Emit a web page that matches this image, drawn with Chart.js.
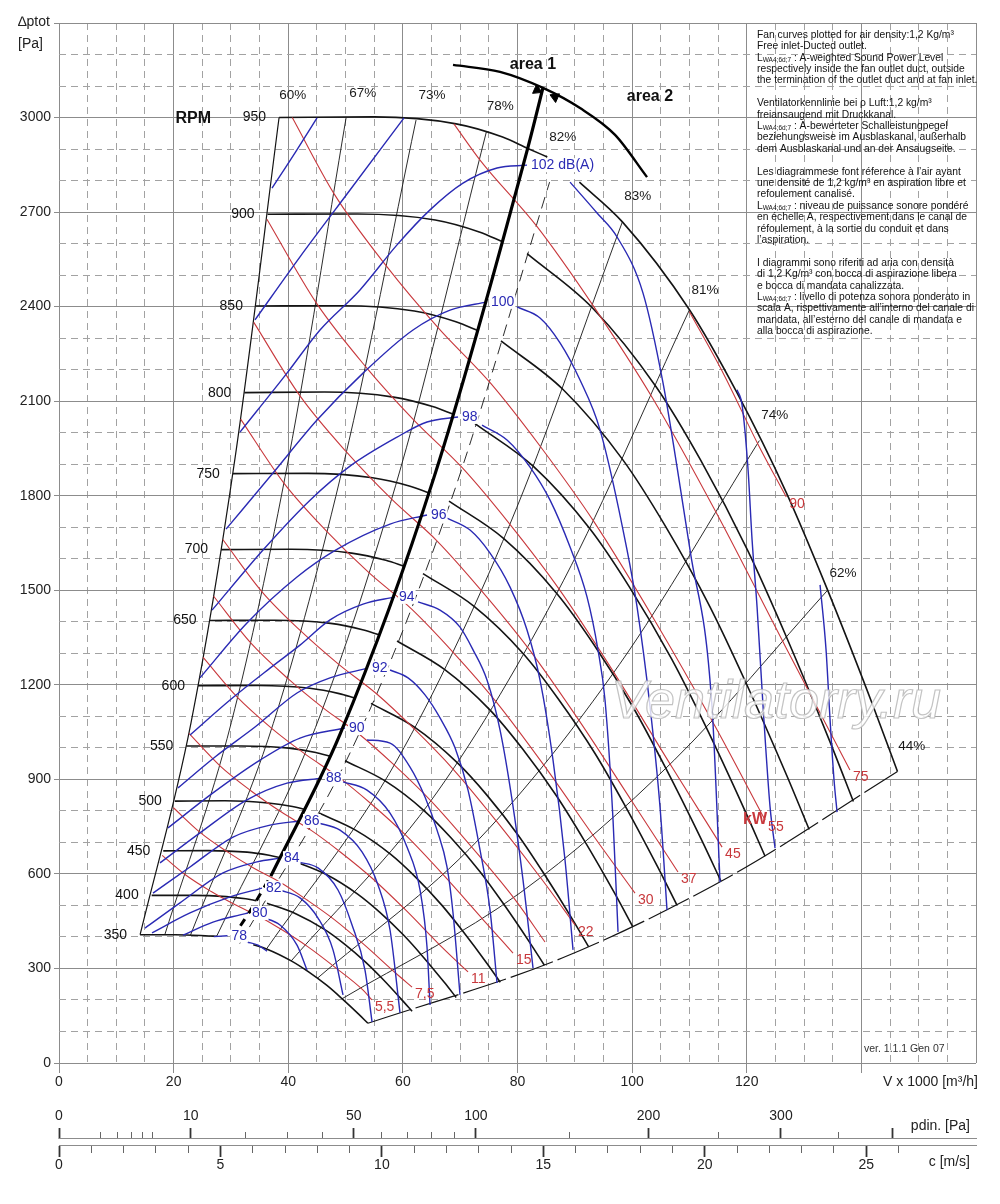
<!DOCTYPE html>
<html>
<head>
<meta charset="utf-8">
<title>Fan curves</title>
<script src="https://cdn.jsdelivr.net/npm/chart.js@4.4.1/dist/chart.umd.min.js"></script>
<style>
  html, body { margin: 0; padding: 0; background: #fff; }
  #wrap { width: 1000px; height: 1204px; }
</style>
</head>
<body>
<div id="wrap"><canvas id="fanChart" width="1000" height="1204"></canvas></div>
<script>
// ---------------- axis ticks ----------------
const xTicks = [0,5,10,15,20,25,30,35,40,45,50,55,60,65,70,75,80,85,90,95,100,105,110,115,120,125,130,135,140,145,150,155,160];
const yTicks = [0,100,200,300,400,500,600,700,800,900,1000,1100,1200,1300,1400,1500,1600,1700,1800,1900,2000,2100,2200,2300,2400,2500,2600,2700,2800,2900,3000,3100,3200,3300];
const pdinMajor = [0, 10, 50, 100, 200, 300, 400];
const pdinMajorLabels = ['0', '10', '50', '100', '200', '300', ''];
const pdinMinor = [1, 2, 3, 4, 5, 20, 30, 40, 60, 70, 80, 90, 150, 250, 350];
const cMajor = [0, 5, 10, 15, 20, 25];
const cMinor = [1,2,3,4,6,7,8,9,11,12,13,14,16,17,18,19,21,22,23,24,26];
const cMax = 28.4;        // c [m/s] at V = 160 x1000 m3/h
const pdinLevel = -241;   // height of the pdin axis line, in units of the Pa scale
const cLevel = -263;      // height of the c axis line

// ---------------- RPM curves [V x1000 m3/h, Pa], null = break ----------------
const rpmLabels = [350, 400, 450, 500, 550, 600, 650, 700, 750, 800, 850, 900, 950];
const rpm350 = [[14.15,407],[20.26,407],[25.53,404],[27.6,402],[30.5,null],[33.9,375],[36.21,362],[40.52,324],[43.55,289],[46.75,246],[49.33,205],[52.28,155],[53.9,126]];
const rpm400 = [[16.17,532],[23.16,532],[29.18,528],[32.59,521],[34.45,515],[35.4,null],[36.3,507],[41.39,473],[46.32,424],[49.77,378],[53.44,321],[56.39,268],[59.75,202],[61.61,164]];
const rpm450 = [[18.19,673],[26.05,674],[32.83,669],[36.66,659],[38.75,651],[39.8,null],[40.83,642],[46.56,599],[52.11,536],[55.99,478],[60.11,406],[63.43,339],[67.22,256],[69.3,208]];
const rpm500 = [[20.21,831],[28.95,832],[36.47,825],[40.74,814],[43.05,804],[44.2,null],[45.37,793],[51.74,739],[57.89,662],[62.21,590],[66.79,501],[70.47,418],[74.68,316],[77.0,256]];
const rpm550 = [[22.23,1006],[31.84,1006],[40.12,999],[44.81,985],[47.35,973],[48.6,null],[49.9,959],[56.91,895],[63.68,801],[68.43,714],[73.46,607],[77.52,506],[82.15,382],[84.69,310]];
const rpm600 = [[24.25,1197],[34.74,1198],[43.77,1189],[48.89,1172],[51.66,1158],[53.0,null],[54.44,1141],[62.09,1065],[69.48,953],[74.66,850],[80.15,722],[84.57,602],[89.62,455],[92.4,369]];
const rpm650 = [[26.27,1404],[37.63,1405],[47.41,1395],[52.96,1375],[55.97,1358],[57.5,null],[58.98,1339],[67.26,1249],[75.26,1119],[80.87,997],[86.82,847],[91.61,707],[97.09,534],[100.1,433]];
const rpm700 = [[28.29,1629],[40.52,1630],[51.06,1618],[57.03,1595],[60.27,1576],[61.9,null],[63.51,1553],[72.43,1449],[81.05,1298],[87.09,1156],[93.5,983],[98.66,820],[104.55,619],[107.79,502]];
const rpm750 = [[30.32,1870],[43.42,1871],[54.71,1857],[61.11,1831],[64.58,1809],[66.3,null],[68.05,1783],[77.61,1664],[86.85,1490],[93.32,1328],[100.19,1128],[105.71,941],[112.03,711],[115.5,577]];
const rpm800 = [[32.34,2127],[46.32,2129],[58.36,2113],[65.18,2083],[68.88,2058],[70.7,null],[72.59,2029],[82.78,1893],[92.63,1695],[99.54,1510],[106.86,1283],[112.76,1071],[119.5,808],[123.2,656]];
const rpm850 = [[34.36,2402],[49.21,2403],[62.0,2386],[69.25,2352],[73.19,2323],[75.2,null],[77.12,2291],[87.95,2137],[98.42,1913],[105.75,1705],[113.54,1449],[119.8,1209],[126.96,913],[130.89,741]];
const rpm900 = [[36.38,2693],[52.11,2694],[65.65,2675],[73.33,2637],[77.5,2605],[79.6,null],[81.67,2568],[93.13,2395],[104.21,2145],[111.98,1912],[120.22,1624],[126.85,1355],[134.44,1023],[138.6,830]];
const rpm950 = [[38.4,3000],[55,3002],[69.3,2980],[77.4,2938],[81.8,2902],[85.2,2875],[88,null],[90.8,2795],[98.3,2669],[110,2390],[118.2,2130],[126.9,1810],[133.9,1510],[141.9,1140],[146.3,925]];

// ---------------- efficiency lines ----------------
const effLabels = ['60%', '67%', '73%', '78%', '82%', '83%', '81%', '74%', '62%', '44%'];
const effLabelV = [40.8, 53.0, 65.1, 77.0, 87.9, 101.0, 112.7, 124.9, 136.8, 148.8];
const effLabelP = [3072, 3078, 3072, 3037, 2938, 2751, 2453, 2056, 1555, 1006];
const eff60 = [[14.15,407],[23.04,1080],[30.72,1920],[38.4,3000]];
const eff67 = [[18.46,407],[30.06,1080],[40.08,1920],[50.1,3000]];
const eff73 = [[22.95,406],[37.38,1077],[49.84,1915],[62.3,2992]];
const eff78 = [[27.48,401],[44.76,1065],[59.68,1892],[74.6,2957]];
const eff82 = [[31.54,379],[51.36,1006],[68.48,1789],[85.6,2795]];
const eff83 = [[36.21,362],[58.98,961],[78.64,1708],[98.3,2669]];
const eff81 = [[40.52,324],[66,860],[88,1530],[110,2390]];
const eff74 = [[45.02,268],[73.32,711],[97.76,1264],[122.2,1975]];
const eff62 = [[49.4,204],[80.46,540],[107.28,960],[134.1,1500]];
const eff44 = [[53.9,126],[87.78,333],[117.04,592],[146.3,925]];

// area boundary, arc and its arrows
const areaLine = [[36.96,593],[49.08,1045],[65.44,1859],[81.8,2904],[84.45,3095]];
const areaLineLow = [[30.2,396],[33.5,487],[36.96,593]];
const areaArc = [[68.75,3167],[76.95,3145],[84.45,3094],[90.91,3030],[97.02,2945],[102.6,2811]];
const areaArrows = [[83.41,3087],[86.55,3065]];
const areaArrowAngles = [114, -66];

// ---------------- shaft power lines [kW] ----------------
const kwLabels = ['5,5', '7,5', '11', '15', '', '22', '30', '37', '45', '55', '75', '90'];
const kw5_5 = [[18.0,659],[22.29,594],[26.56,544],[30.75,502],[34.93,465],[39.04,421],[43.33,370],[48.06,305],[53.06,231],[54.6,200]];
const kw7_5 = [[19.96,810],[24.72,730],[29.45,669],[34.09,617],[38.73,572],[43.29,517],[48.04,455],[53.29,375],[58.83,284],[61.6,241]];
const kw11 = [[22.68,1046],[28.09,943],[33.47,864],[38.74,797],[44.01,738],[49.19,668],[54.6,587],[60.56,484],[66.85,367],[71.37,289]];
const kw15 = [[25.15,1287],[31.15,1160],[37.11,1062],[42.96,980],[48.8,907],[54.55,821],[60.54,722],[67.15,595],[74.13,452],[79.22,349]];
const kw18_5 = [[26.98,1481],[33.41,1334],[39.81,1222],[46.08,1127],[52.34,1044],[58.51,945],[64.93,831],[72.02,685],[79.51,520],[84.8,384]];
const kw22 = [[28.58,1661],[35.39,1496],[42.17,1371],[48.81,1265],[55.45,1171],[61.98,1060],[68.79,932],[76.3,768],[84.23,583],[90.04,438]];
const kw30 = [[31.69,2043],[39.24,1840],[46.76,1686],[54.12,1555],[61.49,1441],[68.73,1304],[76.28,1146],[84.6,945],[93.4,717],[100.5,539]];
const kw37 = [[33.99,2350],[42.08,2116],[50.15,1939],[58.04,1789],[65.94,1657],[73.7,1499],[81.8,1318],[90.73,1087],[100.16,825],[108.0,606]];
const kw45 = [[36.28,2677],[44.92,2411],[53.53,2209],[61.96,2039],[70.39,1888],[78.68,1709],[87.32,1502],[96.86,1238],[106.92,940],[115.7,685]];
const kw55 = [[40.7,3000],[48.03,2757],[57.24,2526],[66.25,2331],[75.26,2158],[84.12,1953],[93.36,1717],[103.56,1416],[114.31,1074],[123.2,771]];
const kw75 = [[68.9,2980],[73.46,2865],[83.45,2653],[93.28,2401],[103.53,2111],[114.83,1741],[126.76,1321],[138.0,930]];
const kw90 = [[110,2384],[116,2185],[122,1962],[126.9,1796]];
const kwUnitPos = [121.45, 771];

// ---------------- sound power lines [dB(A)], rising part L and falling part R ----------------
const dbLabels = ['78', '80', '82', '84', '86', '88', '90', '92', '94', '96', '98', '100', '102 dB(A)', '', ''];
const db78L = [[27.0,401],[29.4,404]];
const db78R = [[32.8,384],[34.72,374],[36.29,355]];
const db80L = [[21.64,406],[26.87,447],[31.58,470],[32.98,476]];
const db80R = [[35.42,463],[38.56,438],[41.53,374],[43.27,295]];
const db82L = [[16.23,413],[22.86,476],[29.84,527],[35.42,555]];
const db82R = [[38.56,549],[42.05,524],[45.19,460],[47.81,359],[49.56,216]];
const db84L = [[15.01,428],[21.11,508],[28.62,603],[34.55,638],[38.56,650]];
const db84R = [[41.7,638],[45.19,619],[48.68,549],[51.13,438],[53.39,295],[54.62,130]];
const db86L = [[16.4,539],[22.86,622],[30.36,717],[36.82,755],[42.05,768]];
const db86R = [[45.19,762],[49.03,739],[52.87,670],[55.66,565],[57.76,422],[59.5,159]];
const db88L = [[17.62,635],[24.6,730],[32.8,835],[39.78,888],[45.89,904]];
const db88R = [[49.56,892],[53.74,866],[57.76,793],[60.72,685],[62.99,549],[64.21,368],[64.74,184]];
const db90L = [[19.02,746],[26.87,857],[35.07,961],[42.05,1031],[49.9,1063]];
const db90R = [[53.74,1025],[57.76,1015],[61.25,939],[63.86,844],[65.96,739],[67.7,622],[68.75,476],[69.97,216]];
const db92L = [[20.77,873],[27.22,971],[34.2,1066],[41.53,1174],[47.29,1222],[53.92,1253]];
const db92R = [[57.76,1247],[60.9,1222],[63.86,1168],[66.48,1095],[69.1,1000],[71.37,866],[73.46,676],[75.21,485],[76.43,254]];
const db94L = [[22.86,1041],[29.84,1152],[36.82,1253],[42.05,1326],[47.29,1406],[53.05,1456],[58.63,1479]];
const db94R = [[62.64,1463],[66.48,1437],[69.97,1383],[72.24,1311],[74.68,1215],[76.95,1057],[79.05,835],[80.96,581],[82.71,301]];
const db96L = [[24.6,1222],[32.8,1396],[41.53,1542],[48.33,1628],[57.76,1710],[64.21,1739]];
const db96R = [[67.7,1729],[71.72,1691],[75.21,1618],[78.7,1510],[81.66,1374],[83.93,1215],[86.2,961],[88.29,644],[89.69,359]];
const db98L = [[26.7,1437],[35.6,1628],[43.8,1786],[50.78,1894],[58.98,1986],[64.22,2034],[69.62,2050]];
const db98R = [[73.81,2024],[78.17,1977],[82.19,1891],[85.68,1786],[89.17,1637],[92.13,1479],[94.05,1310],[95.27,1152],[96.67,771],[97.54,416]];
const db100L = [[29.14,1694],[37.34,1872],[45.02,2040],[53.05,2189],[61.77,2326],[68.23,2389],[74.68,2415]];
const db100R = [[79.92,2399],[83.93,2364],[87.42,2285],[90.91,2167],[94.4,2009],[99.11,1628],[100.86,1447],[103.13,1130],[104.87,812],[106.09,485]];
const db102L = [[31.58,2002],[39.78,2189],[45.54,2326],[52.52,2453],[58.98,2596],[64.74,2707],[70.49,2792],[76.43,2840],[81.66,2849]];
const db102R = [[89.17,2795],[93.88,2697],[97.37,2621],[101.9,2443],[105.39,2158],[107.84,1891],[110.1,1628],[113.94,1130],[115.34,574]];
const db104L = [[34.2,2358],[42.05,2558],[50.78,2770],[60.2,2999]];
const db104R = [[118.31,2136],[119.18,2088],[120.23,1882],[120.93,1660],[121.8,1447],[122.85,1130],[124.07,812],[124.94,682]];
const db106L = [[37.17,2776],[41.18,2888],[45.02,2999]];
const db106R = [[132.79,1517],[133.84,1310],[134.54,1088],[135.23,898],[135.76,796]];

// ---------------- side note ----------------
const infoLines = [
  'Fan curves plotted for air density:1,2 Kg/m³',
  'Free inlet-Ducted outlet.',
  ['L', 'WA4;6d;7', ' : A-weighted Sound Power Level'],
  'respectively inside the fan outlet duct, outside',
  'the termination of the outlet duct and at fan inlet.',
  '',
  'Ventilatorkennlinie bei ρ Luft:1,2 kg/m³',
  'freiansaugend mit Druckkanal.',
  ['L', 'WA4;6d;7', ' : A-bewerteter Schalleistungpegel'],
  'beziehungsweise im Ausblaskanal, außerhalb',
  'dem Ausblaskanal und an der Ansaugseite.',
  '',
  'Les diagrammese font réference à l\u2019air ayant',
  'une densité de 1,2 kg/m³ en aspiration libre et',
  'refoulement canalisé.',
  ['L', 'WA4;6d;7', ' : niveau de puissance sonore pondéré'],
  'en échelle A, respectivement dans le canal de',
  'réfoulement, à la sortie du conduit et dans',
  'l\u2019aspiration.',
  '',
  'I diagrammi sono riferiti ad aria con densità',
  'di 1,2 Kg/m³ con bocca di aspirazione libera',
  'e bocca di mandata canalizzata.',
  ['L', 'WA4;6d;7', ' : livello di potenza sonora ponderato in'],
  'scala A, rispettivamente all\u2019interno del canale di',
  'mandata, all\u2019esterno del canale di mandata e',
  'alla bocca di aspirazione.'
];

// ---------------- build datasets ----------------
const FONT = '"Liberation Sans", Arial, Helvetica, sans-serif';
const BLACK = '#141414', RED = '#c8383c', BLUE = '#2a2ab4';

const rpmCurves = [rpm350, rpm400, rpm450, rpm500, rpm550, rpm600, rpm650, rpm700, rpm750, rpm800, rpm850, rpm900, rpm950];
const effCurves = [eff60, eff67, eff73, eff78, eff82, eff83, eff81, eff74, eff62, eff44];
const kwCurves = [kw5_5, kw7_5, kw11, kw15, kw18_5, kw22, kw30, kw37, kw45, kw55, kw75, kw90];
const dbLeft = [db78L, db80L, db82L, db84L, db86L, db88L, db90L, db92L, db94L, db96L, db98L, db100L, db102L, db104L, db106L];
const dbRight = [db78R, db80R, db82R, db84R, db86R, db88R, db90R, db92R, db94R, db96R, db98R, db100R, db102R, db104R, db106R];

const toPts = arr => arr.map(p => ({x: p[0], y: p[1]}));

function curve(arr, color, width, order, extra) {
  return Object.assign({
    data: toPts(arr),
    borderColor: color,
    borderWidth: width,
    pointRadius: 0,
    pointHoverRadius: 0,
    fill: false,
    spanGaps: false,
    cubicInterpolationMode: 'monotone',
    borderJoinStyle: 'round',
    order: order
  }, extra || {});
}

const datasets = [];
datasets.push(curve(areaLine, '#000', 3.2, 0));
datasets.push(curve(areaLineLow, '#000', 3, 0, {borderDash: [8, 7]}));
datasets.push(curve(areaArc, '#000', 2.4, 0));
datasets.push({
  data: toPts(areaArrows), showLine: false, order: 0,
  pointStyle: 'triangle', pointRadius: 5.5, pointRotation: areaArrowAngles,
  pointBackgroundColor: '#000', pointBorderColor: '#000', pointBorderWidth: 1
});
dbLeft.forEach(c => datasets.push(curve(c, BLUE, 1.4, 1)));
dbRight.forEach(c => datasets.push(curve(c, BLUE, 1.4, 1)));
kwCurves.forEach(c => datasets.push(curve(c, RED, 1.1, 2)));
rpmCurves.forEach(c => datasets.push(curve(c, BLACK, 1.6, 3)));
effCurves.forEach(c => {
  let extra = {};
  if (c === eff82) extra = {borderDash: [12, 7]};
  if (c === eff44) extra = {borderDash: [45, 5]};
  datasets.push(curve(c, BLACK, (c === eff60 || c === eff44) ? 1.2 : 0.9, 4, extra));
});

// ---------------- texts ----------------
function drawText(ctx, text, x, y, font, color, align, base) {
  ctx.font = font;
  ctx.fillStyle = color;
  ctx.textAlign = align || 'center';
  ctx.textBaseline = base || 'middle';
  ctx.fillText(text, x, y);
}

const textPlugin = {
  id: 'fanTexts',
  afterDatasetsDraw(chart) {
    const ctx = chart.ctx;
    const sx = chart.scales.x, sy = chart.scales.y;
    const px = v => sx.getPixelForValue(v);
    const py = p => sy.getPixelForValue(p);
    const area = chart.chartArea;
    ctx.save();

    // RPM labels at the start of each speed curve
    rpmCurves.forEach((c, i) => {
      drawText(ctx, String(rpmLabels[i]), px(c[0][0]) - 13, py(c[0][1]), '14px ' + FONT, '#111', 'right');
    });
    const top = rpmCurves[rpmCurves.length - 1][0];
    drawText(ctx, 'RPM', px(top[0]) - 68, py(top[1]) + 1, 'bold 16px ' + FONT, '#111', 'right');

    // efficiency labels
    effLabels.forEach((t, i) => {
      drawText(ctx, t, px(effLabelV[i]), py(effLabelP[i]), '13.5px ' + FONT, '#1a1a1a');
    });

    // dB(A) labels at the top of each sound curve
    ctx.font = '14px ' + FONT;
    dbLeft.forEach((c, i) => {
      const t = dbLabels[i];
      if (!t) return;
      const end = c[c.length - 1];
      const x0 = px(end[0]) + 3, y0 = py(end[1]);
      const w = ctx.measureText(t).width;
      ctx.fillStyle = '#fff';
      ctx.fillRect(x0, y0 - 7, w + 2, 14);
      drawText(ctx, t, x0 + 1, y0, '14px ' + FONT, BLUE, 'left');
    });

    // kW labels at the end of each power line
    kwCurves.forEach((c, i) => {
      const t = kwLabels[i];
      if (!t) return;
      const end = c[c.length - 1];
      drawText(ctx, t, px(end[0]) + 3, py(end[1]) + 7, '14px ' + FONT, RED, 'left');
    });
    drawText(ctx, 'kW', px(kwUnitPos[0]), py(kwUnitPos[1]), 'bold 16px ' + FONT, RED);

    // area labels
    drawText(ctx, 'area 1', px(82.7), py(3167), 'bold 16px ' + FONT, '#111');
    drawText(ctx, 'area 2', px(103.1), py(3068), 'bold 16px ' + FONT, '#111');

    // axis titles
    drawText(ctx, '\u2206ptot', 18, 22, '14px ' + FONT, '#222', 'left');
    drawText(ctx, '[Pa]', 18, 44, '14px ' + FONT, '#222', 'left');
    drawText(ctx, 'V x 1000 [m³/h]', area.right + 2, 1082, '14px ' + FONT, '#222', 'right');
    drawText(ctx, 'pdin. [Pa]', 970, 1126, '14px ' + FONT, '#222', 'right');
    drawText(ctx, 'c [m/s]', 970, 1162, '14px ' + FONT, '#222', 'right');
    drawText(ctx, 'ver. 1.1.1 Gen 07', 864, 1049, '10.5px ' + FONT, '#333', 'left');

    // side note
    const x0 = 757, y0 = 35, lh = 11.4, f = '10.3px ' + FONT, fs = '6.5px ' + FONT;
    ctx.fillStyle = '#111';
    ctx.textAlign = 'left';
    ctx.textBaseline = 'middle';
    infoLines.forEach((line, i) => {
      const yy = y0 + i * lh;
      if (Array.isArray(line)) {
        let xx = x0;
        ctx.font = f; ctx.fillText(line[0], xx, yy); xx += ctx.measureText(line[0]).width;
        ctx.font = fs; ctx.fillText(line[1], xx, yy + 2); xx += ctx.measureText(line[1]).width;
        ctx.font = f; ctx.fillText(line[2], xx, yy);
      } else if (line) {
        ctx.font = f; ctx.fillText(line, x0, yy);
      }
    });

    // watermark
    ctx.font = 'italic 54px ' + FONT;
    ctx.textAlign = 'center';
    ctx.textBaseline = 'middle';
    ctx.fillStyle = 'rgba(255,255,255,0.8)';
    ctx.fillText('Ventilatorry.ru', 776, 703);
    ctx.strokeStyle = 'rgba(185,185,185,0.85)';
    ctx.lineWidth = 1.2;
    ctx.strokeText('Ventilatorry.ru', 776, 703);

    ctx.restore();
  }
};

// ---------------- scales ----------------
const GRID_SOLID = '#8c8c8c', GRID_DASH = '#a2a2a2', NONE = 'rgba(0,0,0,0)';
const tickFont = {family: FONT, size: 14};

function valueOf(ctx) { return ctx.tick ? ctx.tick.value : 0; }

const pdinToC = p => Math.sqrt(p / 0.6);   // dynamic pressure -> air speed, rho = 1,2 kg/m3

const scales = {
  x: {
    type: 'linear', min: 0, max: 160, position: 'bottom',
    afterFit: s => { s.height = 141; },
    afterBuildTicks: s => { s.ticks = xTicks.map(v => ({value: v})); },
    ticks: {
      autoSkip: false, maxRotation: 0, minRotation: 0, padding: 1, color: '#222', font: tickFont,
      callback: v => (v % 20 === 0 && v <= 120) ? String(v) : ''
    },
    grid: {
      lineWidth: 1, tickLength: 10,
      color: c => valueOf(c) % 20 === 0 ? GRID_SOLID : GRID_DASH,
      tickColor: c => (valueOf(c) % 20 === 0 && valueOf(c) < 160) ? GRID_SOLID : NONE
    },
    border: { display: false, dash: c => (c.tick && c.tick.value % 20 !== 0) ? [7, 5] : [] }
  },
  y: {
    type: 'linear', min: 0, max: 3300, position: 'left',
    afterFit: s => { s.width = 59; },
    afterBuildTicks: s => { s.ticks = yTicks.map(v => ({value: v})); },
    ticks: {
      autoSkip: false, padding: 3, color: '#222', font: tickFont,
      callback: v => (v % 300 === 0 && v < 3300) ? String(v) : ''
    },
    grid: {
      lineWidth: 1, tickLength: 5,
      color: c => valueOf(c) % 300 === 0 ? GRID_SOLID : GRID_DASH,
      tickColor: c => valueOf(c) % 300 === 0 ? GRID_SOLID : NONE
    },
    border: { display: false, dash: c => (c.tick && c.tick.value % 300 !== 0) ? [7, 5] : [] }
  },
  pdMinor: {
    type: 'linear', min: 0, max: cMax, position: {y: pdinLevel}, axis: 'x',
    afterFit: s => { s.height = 0; },
    afterBuildTicks: s => { s.ticks = pdinMinor.map(p => ({value: pdinToC(p)})); },
    ticks: { display: false, autoSkip: false },
    grid: { drawOnChartArea: false, tickLength: -7, tickColor: '#666', tickWidth: 1 },
    border: { display: false }
  },
  pdMajor: {
    type: 'linear', min: 0, max: cMax, position: {y: pdinLevel}, axis: 'x',
    afterFit: s => { s.height = 0; },
    afterBuildTicks: s => { s.ticks = pdinMajor.map(p => ({value: pdinToC(p)})); },
    ticks: {
      autoSkip: false, maxRotation: 0, minRotation: 0, padding: -20, color: '#222', font: tickFont,
      callback: (v, i) => pdinMajorLabels[i]
    },
    grid: { drawOnChartArea: false, tickLength: -11, tickColor: '#333', tickWidth: 1.8 },
    border: { display: true, color: '#8c8c8c', width: 1 }
  },
  cMinor: {
    type: 'linear', min: 0, max: cMax, position: {y: cLevel}, axis: 'x',
    afterFit: s => { s.height = 0; },
    afterBuildTicks: s => { s.ticks = cMinor.map(v => ({value: v})); },
    ticks: { display: false, autoSkip: false },
    grid: { drawOnChartArea: false, tickLength: 7, tickColor: '#666', tickWidth: 1 },
    border: { display: false }
  },
  cMajor: {
    type: 'linear', min: 0, max: cMax, position: {y: cLevel}, axis: 'x',
    afterFit: s => { s.height = 0; },
    afterBuildTicks: s => { s.ticks = cMajor.map(v => ({value: v})); },
    ticks: {
      autoSkip: false, maxRotation: 0, minRotation: 0, padding: 0, color: '#222', font: tickFont,
      callback: v => String(v)
    },
    grid: { drawOnChartArea: false, tickLength: 11, tickColor: '#333', tickWidth: 1.8 },
    border: { display: true, color: '#8c8c8c', width: 1 }
  }
};

new Chart(document.getElementById('fanChart').getContext('2d'), {
  type: 'line',
  data: { datasets: datasets },
  options: {
    responsive: false,
    animation: false,
    events: [],
    layout: { padding: { top: 23, right: 24, left: 0, bottom: 0 } },
    plugins: { legend: { display: false }, tooltip: { enabled: false } },
    scales: scales
  },
  plugins: [textPlugin]
});
</script>
</body>
</html>
